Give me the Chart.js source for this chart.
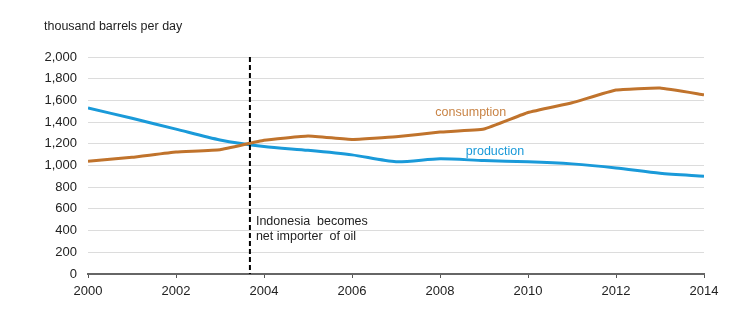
<!DOCTYPE html>
<html>
<head>
<meta charset="utf-8">
<script src="https://cdn.jsdelivr.net/npm/chart.js@4"></script>
<style>
  html, body { margin: 0; padding: 0; background: #fff; }
  #wrap { width: 737px; height: 333px; position: relative; }
</style>
</head>
<body>
<div id="wrap"><canvas id="oilChart" width="737" height="333"></canvas></div>
<script>
const years = [2000, 2001, 2002, 2003, 2004, 2005, 2006, 2007, 2008, 2009, 2010, 2011, 2012, 2013, 2014];
const production = [1530, 1435, 1335, 1235, 1175, 1140, 1098, 1035, 1062, 1045, 1035, 1015, 978, 928, 902];
const consumption = [1040, 1075, 1124, 1145, 1232, 1272, 1240, 1265, 1308, 1336, 1488, 1578, 1696, 1714, 1652];
const yTicks = [0, 200, 400, 600, 800, 1000, 1200, 1400, 1600, 1800, 2000];
const unitLabel = "thousand barrels per day";
const importYear = 2003.68;
const importNote = ["Indonesia  becomes", "net importer  of oil"];
const seriesLabels = [
  { text: "consumption", x: 2008.7, y: 1484, color: "#c98446" },
  { text: "production", x: 2009.25, y: 1130, color: "#1a9ad9" }
];

const font = "Arial, 'Liberation Sans', sans-serif";

const extras = {
  id: "extras",
  afterDatasetsDraw(chart) {
    const ctx = chart.ctx;
    const xs = chart.scales.x, ys = chart.scales.y;
    ctx.save();
    // dashed marker line
    const lx = xs.getPixelForValue(importYear);
    ctx.strokeStyle = "#000";
    ctx.lineWidth = 2;
    ctx.setLineDash([5, 3]);
    ctx.beginPath();
    ctx.moveTo(lx, ys.getPixelForValue(2000));
    ctx.lineTo(lx, ys.getPixelForValue(0));
    ctx.stroke();
    ctx.setLineDash([]);
    // note
    ctx.font = "12.5px " + font;
    ctx.fillStyle = "#222";
    ctx.textAlign = "left";
    ctx.textBaseline = "middle";
    ctx.fillText(importNote[0], lx + 6, ys.getPixelForValue(480));
    ctx.fillText(importNote[1], lx + 6, ys.getPixelForValue(345));
    // series labels
    ctx.textAlign = "center";
    seriesLabels.forEach(l => {
      ctx.fillStyle = l.color;
      ctx.fillText(l.text, xs.getPixelForValue(l.x), ys.getPixelForValue(l.y));
    });
    // unit label
    ctx.fillStyle = "#222";
    ctx.textAlign = "left";
    ctx.fillText(unitLabel, 44, 27);
    ctx.restore();
  }
};

new Chart(document.getElementById("oilChart"), {
  type: "line",
  data: {
    datasets: [
      {
        label: "consumption",
        data: years.map((y, i) => ({ x: y, y: consumption[i] })),
        borderColor: "#c0732c",
        borderWidth: 3,
        pointRadius: 0,
        tension: 0.1
      },
      {
        label: "production",
        data: years.map((y, i) => ({ x: y, y: production[i] })),
        borderColor: "#1a9ad9",
        borderWidth: 3,
        pointRadius: 0,
        tension: 0.25
      }
    ]
  },
  options: {
    responsive: false,
    animation: false,
    layout: { padding: { top: 57, right: 33, left: 0, bottom: 0 } },
    plugins: { legend: { display: false }, tooltip: { enabled: false } },
    scales: {
      x: {
        type: "linear",
        min: 2000,
        max: 2014,
        afterFit: s => { s.height = 59; },
        afterBuildTicks: s => { s.ticks = years.filter(y => y % 2 === 0).map(v => ({ value: v })); },
        ticks: {
          callback: v => String(v),
          color: "#222",
          font: { family: font, size: 13 },
          padding: 6,
          maxRotation: 0
        },
        grid: { drawOnChartArea: false, drawTicks: true, tickLength: 4, color: "#555" },
        border: { display: true, color: "#666", width: 2 }
      },
      y: {
        min: 0,
        max: 2000,
        afterFit: s => { s.width = 88; },
        afterBuildTicks: s => { s.ticks = yTicks.map(v => ({ value: v })); },
        ticks: {
          callback: v => v.toLocaleString("en-US"),
          color: "#222",
          font: { family: font, size: 13 },
          padding: 11
        },
        grid: { color: "#dcdcdc", lineWidth: 1, drawTicks: false },
        border: { display: false }
      }
    }
  },
  plugins: [extras]
});
</script>
</body>
</html>
